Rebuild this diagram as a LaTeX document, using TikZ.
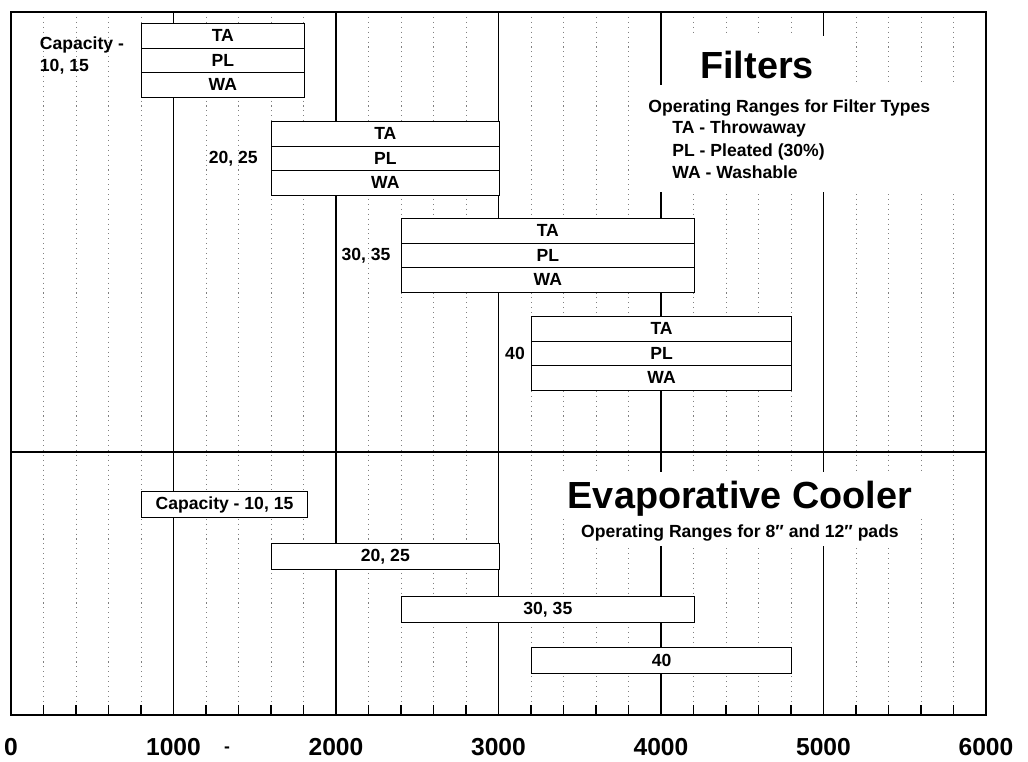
\documentclass[tikz,border=0pt]{standalone}
\usepackage{fontspec}
\setmainfont{Liberation Sans}
\usetikzlibrary{positioning}

\tikzset{
  major/.style={line width=1pt},
  minor/.style={gray, line width=0.5pt, dash pattern=on 0.6pt off 2.2pt},
  tick/.style={line width=0.8pt},
  blank/.style={fill=white},
  small/.style={font=\fontsize{10}{12.5}\selectfont\bfseries},
  legend/.style={small, inner sep=0pt},
  title/.style={font=\fontsize{21.5}{24}\selectfont\bfseries, inner sep=0pt},
  axis/.style={font=\fontsize{14}{16}\selectfont\bfseries},
  rowbox/.style={small, draw, fill=white, line width=0.7pt, inner sep=0pt, minimum height=0.49cm},
  barbox/.style={small, draw, fill=white, line width=0.7pt, inner sep=0pt, minimum height=0.52cm}
}

% one filter range: name, from, to, top
\newcommand{\filterbar}[4]{%
  \foreach \r/\t [count=\i from 0] in {ta/TA,pl/PL,wa/WA}
    \node [rowbox, anchor=north west, minimum width={(#3-#2)*3.25cm}] (#1\r) at (#2,#4+\i*24.5) {\t};
}

\begin{document}
\begin{tikzpicture}[x=3.25cm, y=-0.02cm]
  \useasboundingbox (-0.0677,0) rectangle (6.2585,761);

  % grid
  \foreach \i in {1,...,29} {
    \draw [minor] (\i/5,12) -- (\i/5,705);
    \draw [tick] (\i/5,705) -- (\i/5,715);
  }
  \foreach \x in {1,...,5}
    \draw [major] (\x,12) -- (\x,715);
  \draw [major] (0,12) rectangle (6,715);
  \draw [major] (0,452) -- (6,452);

  % room for the headings
  \fill [blank] (4.055,36) rectangle (5.102,192);
  \fill [blank] (3.871,85) rectangle (5.951,192);
  \fill [blank] (3.36,472) rectangle (5.62,517);
  \fill [blank] (3.45,517) rectangle (5.52,546);

  % filters
  \filterbar{fa}{0.8}{1.8}{23}
  \filterbar{fb}{1.6}{3}{121}
  \filterbar{fc}{2.4}{4.2}{218}
  \filterbar{fd}{3.2}{4.8}{316}
  \node [small, align=left, anchor=west] (capa) at (0.14,55) {Capacity -\\10, 15};
  \node [small, left=4pt of fbpl] (capb) {20, 25};
  \node [small, left=2.5pt of fcpl] (capc) {30, 35};
  \node [small, left=0pt of fdpl] (capd) {40};

  \node [title, anchor=base west] (filt) at (4.24,78) {Filters};
  \node [legend, anchor=base west] (legt) at (3.92,112) {Operating Ranges for Filter Types};
  \node [legend, anchor=base west] (legta) at (4.068,133) {TA - Throwaway};
  \node [legend, anchor=base west] (legpl) at (4.068,156) {PL - Pleated (30\%)};
  \node [legend, anchor=base west] (legwa) at (4.068,178) {WA - Washable};

  % evaporative cooler
  \node [title, anchor=base] (evap) at (4.486,508) {Evaporative Cooler};
  \node [legend, anchor=base] (evsub) at (4.486,537) {Operating Ranges for 8″ and 12″ pads};
  \node [barbox, anchor=north west, minimum width={1.02*3.25cm}] (ea) at (0.8,491) {Capacity - 10, 15};
  \node [barbox, anchor=north west, minimum width={1.4*3.25cm}] (eb) at (1.6,543) {20, 25};
  \node [barbox, anchor=north west, minimum width={1.8*3.25cm}] (ec) at (2.4,596) {30, 35};
  \node [barbox, anchor=north west, minimum width={1.6*3.25cm}] (ed) at (3.2,647) {40};

  % axis
  \foreach \x/\t in {0/0,1/1000,2/2000,3/3000,4/4000,5/5000,6/6000}
    \node [axis] (ax\x) at (\x,747) {\t};
  \node [small] (axdash) at (1.33,750) {-};
\end{tikzpicture}
\end{document}
